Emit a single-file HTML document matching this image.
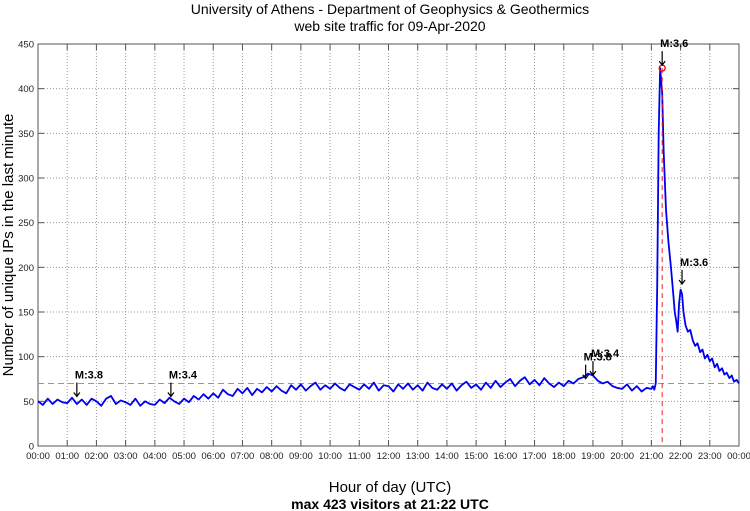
<!DOCTYPE html>
<html><head><meta charset="utf-8"><style>
body{margin:0;background:#fff;}
svg{display:block;font-family:"Liberation Sans",sans-serif;}
</style></head><body>
<svg id="chart" width="750" height="511" viewBox="0 0 750 511" xmlns="http://www.w3.org/2000/svg">
<text x="390" y="14" text-anchor="middle" font-size="14">University of Athens - Department of Geophysics &amp; Geothermics</text>
<text x="390" y="31" text-anchor="middle" font-size="14">web site traffic for 09-Apr-2020</text>
<g id="grid"></g>
<g id="axes"></g>
<g id="series"></g>
<g id="ann"></g>
<text transform="translate(13,245) rotate(-90)" text-anchor="middle" font-size="15">Number of unique IPs in the last minute</text>
<text x="390" y="492" text-anchor="middle" font-size="15">Hour of day (UTC)</text>
<text x="390" y="509" text-anchor="middle" font-size="14" font-weight="bold">max 423 visitors at 21:22 UTC</text>
</svg>
<script>
const yTicks=[0,50,100,150,200,250,300,350,400,450];
const xTickLabels=["00:00","01:00","02:00","03:00","04:00","05:00","06:00","07:00","08:00","09:00","10:00","11:00","12:00","13:00","14:00","15:00","16:00","17:00","18:00","19:00","20:00","21:00","22:00","23:00","00:00"];
const times=[];
const values=[50,46,53,47,52,49, 48,54,47,52,46,53, 50,45,53,56,47,51, 49,46,53,45,50,47, 46,52,48,54,50,47, 53,49,56,52,58,53, 59,54,63,58,56,64, 59,65,57,64,60,66, 61,67,62,59,68,63, 69,62,67,71,63,68, 64,70,65,62,69,66, 63,69,64,71,62,68, 67,61,69,64,70,63, 68,62,71,65,63,69, 64,70,62,68,72,65, 69,63,71,65,73,66, 71,75,67,73,77,69, 74,68,76,70,66,71, 67,73,70,75,77,81, 79,73,70,72,67,65, 64,69,62,67,61,65];
for(let i=0;i<values.length;i++) times.push(i/6);
const spikeTimes=[21.0,21.05,21.1,21.15,21.2,21.25,21.3,21.37,21.42,21.5,21.58,21.67,21.75,21.8,21.85,21.9,21.95,22.0,22.05,22.1,22.17,22.25,22.33,22.42,22.5,22.58,22.67,22.75,22.83,22.92,23.0,23.08,23.17,23.25,23.33,23.42,23.5,23.58,23.67,23.75,23.83,23.92,24.0];
const spikeValues=[64,67,63,70,180,350,423,395,330,265,230,200,170,150,140,128,160,175,170,150,135,128,130,118,112,115,105,108,98,102,95,98,88,92,84,87,80,82,76,79,72,74,70];
const maxTime=21.37, maxValue=423, refLine=70;
const quakeLabels=["M:3.8","M:3.4","M:3.8","M:3.4","M:3.6","M:3.6"];
const quakeTimes=[1.33,4.55,18.75,19.0,21.37,22.05];
const quakeValues=[52,52,72,76,423,178];

const L=38,R=739,T=44,B=446;
const xs=h=>L+(R-L)*h/24, ys=v=>B-(B-T)*v/450;
const NS="http://www.w3.org/2000/svg";
function mk(tag,parent,attrs){const e=document.createElementNS(NS,tag);for(const k in attrs)e.setAttribute(k,attrs[k]);parent.appendChild(e);return e;}
const grid=document.getElementById('grid'),axes=document.getElementById('axes'),series=document.getElementById('series'),ann=document.getElementById('ann');
xTickLabels.forEach((t,i)=>{const x=xs(i);
 if(i>0&&i<24){const g=mk('line',grid,{x1:x,x2:x,y1:T,y2:B,stroke:'#999','stroke-dasharray':'1,2','stroke-width':1});
 
 }
 const tk=mk('line',axes,{x1:x,x2:x,y1:B,y2:B-6,stroke:'#555'});
 
 
 const tk2=mk('line',axes,{x1:x,x2:x,y1:T,y2:T+6,stroke:'#555'});
 
 
 const lb=mk('text',axes,{x:x,y:459,'text-anchor':'middle','font-size':9.5,fill:'#222'});lb.textContent=t;
 
 });
yTicks.forEach(v=>{const y=ys(v);
 if(v>0&&v<450){const g=mk('line',grid,{x1:L,x2:R,y1:y,y2:y,stroke:'#999','stroke-dasharray':'1,2'});
 
 }
 const tk=mk('line',axes,{x1:L,x2:L+6,y1:y,y2:y,stroke:'#555'});
 
 
 const tk2=mk('line',axes,{x1:R,x2:R-6,y1:y,y2:y,stroke:'#555'});
 
 
 const lb=mk('text',axes,{x:L-4,y:y+3.5,'text-anchor':'end','font-size':9.5,fill:'#222'});lb.textContent=v;
 
 });
const box=mk('rect',axes,{x:L,y:T,width:R-L,height:B-T,fill:'none',stroke:'#555'});


const ref=mk('line',series,{x1:L,x2:R,y1:ys(refLine),y2:ys(refLine),stroke:'#33dd33','stroke-dasharray':'6,4','stroke-width':1});


const pts=times.map((t,i)=>xs(t)+','+ys(values[i])).concat(spikeTimes.map((t,i)=>xs(t)+','+ys(spikeValues[i]))).join(' ');
const pl=mk('polyline',series,{points:pts,fill:'none',stroke:'#0000ee','stroke-width':1.8,'stroke-linejoin':'round'});


const vl=mk('line',series,{x1:xs(maxTime),x2:xs(maxTime),y1:ys(maxValue),y2:B,stroke:'#e22','stroke-dasharray':'5,4'});


const c=mk('circle',series,{cx:xs(maxTime),cy:ys(maxValue),r:3,fill:'none',stroke:'#e00','stroke-width':1.3});


quakeLabels.forEach((l,i)=>{const x=xs(quakeTimes[i]),y=ys(quakeValues[i])-3;
 const a=mk('path',ann,{d:`M${x},${y-14}L${x},${y}M${x-3},${y-4}L${x},${y}L${x+3},${y-4}`,stroke:'#000',fill:'none','stroke-width':1.2});
 
 
 const t=mk('text',ann,{x:x-2,y:y-18,'font-size':11,'font-weight':'bold'});t.textContent=l;
 
 });
</script>
</body></html>
